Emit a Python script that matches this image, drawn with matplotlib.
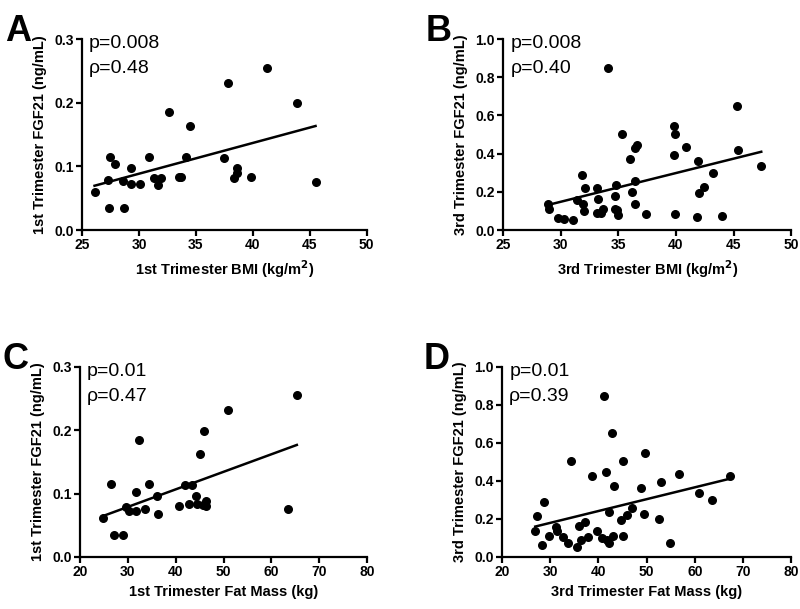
import matplotlib
matplotlib.use("Agg")
import matplotlib.pyplot as plt
import numpy as np

plt.rcParams['font.family'] = ['Liberation Sans', 'DejaVu Sans']

# Panel A: 1st trimester BMI vs FGF21
bmi1 = [26.1, 27.3, 27.5, 27.4, 27.9, 28.6, 28.7, 29.3, 29.3, 30.1, 30.9, 31.3, 31.7, 31.9,
        32.6, 33.5, 33.7, 34.1, 34.5, 37.5, 37.8, 38.3, 38.6, 38.6, 39.8, 41.2, 43.9, 45.5]
fgf1_a = [0.060, 0.079, 0.115, 0.034, 0.103, 0.077, 0.035, 0.097, 0.073, 0.072, 0.115, 0.081, 0.070, 0.081,
          0.185, 0.084, 0.084, 0.114, 0.163, 0.113, 0.231, 0.081, 0.098, 0.090, 0.084, 0.255, 0.199, 0.075]

# Panel B: 3rd trimester BMI vs FGF21
bmi3 = [28.9, 29.0, 29.8, 30.3, 31.1, 31.4, 31.8, 31.9, 32.1, 32.0, 33.1, 33.2, 33.1, 33.5, 33.7,
        34.1, 34.7, 34.8, 34.7, 34.9, 35.0, 35.3, 36.0, 36.2, 36.4, 36.4, 36.4, 36.6, 37.4,
        39.8, 39.9, 39.8, 39.9, 40.9, 41.9, 41.8, 42.0, 42.4, 43.2, 44.0, 45.3, 45.4, 47.4]
fgf3_b = [0.136, 0.108, 0.065, 0.056, 0.051, 0.157, 0.288, 0.136, 0.218, 0.099, 0.218, 0.161, 0.091, 0.087, 0.108,
          0.846, 0.178, 0.236, 0.108, 0.105, 0.079, 0.501, 0.370, 0.197, 0.258, 0.136, 0.428, 0.445, 0.082,
          0.546, 0.501, 0.393, 0.084, 0.436, 0.363, 0.070, 0.192, 0.227, 0.300, 0.073, 0.649, 0.419, 0.337]

# Panel C: 1st trimester fat mass vs FGF21
fat1 = [24.9, 26.5, 27.2, 28.9, 29.6, 30.3, 31.6, 31.6, 32.3, 33.5, 34.5, 36.0, 36.2, 40.7,
        42.0, 42.7, 43.5, 44.3, 44.4, 45.1, 45.7, 46.3, 46.3, 46.0, 50.9, 63.4, 65.3]
fgf1_c = [0.061, 0.115, 0.034, 0.034, 0.079, 0.072, 0.072, 0.103, 0.185, 0.076, 0.115, 0.096, 0.068, 0.081,
          0.113, 0.083, 0.113, 0.097, 0.083, 0.163, 0.082, 0.089, 0.080, 0.199, 0.232, 0.075, 0.255]

# Panel D: 3rd trimester fat mass vs FGF21
fat3 = [26.9, 27.3, 28.2, 28.8, 29.8, 31.3, 31.4, 32.6, 33.6, 34.3, 35.5, 35.9, 36.4, 37.3, 37.8,
        38.7, 39.7, 40.7, 41.2, 41.6, 41.8, 42.3, 42.3, 42.8, 43.0, 43.2, 44.7, 45.2, 45.9, 45.1,
        47.0, 48.8, 49.4, 49.6, 52.5, 53.0, 54.8, 56.8, 60.8, 63.5, 67.3]
fgf3_d = [0.135, 0.217, 0.065, 0.288, 0.112, 0.157, 0.135, 0.105, 0.073, 0.505, 0.052, 0.164, 0.087, 0.182, 0.105,
          0.427, 0.138, 0.100, 0.848, 0.446, 0.087, 0.236, 0.073, 0.650, 0.108, 0.371, 0.196, 0.108, 0.222, 0.505,
          0.260, 0.365, 0.227, 0.549, 0.199, 0.397, 0.073, 0.437, 0.339, 0.301, 0.427]

panels = [
    ("A", bmi1, fgf1_a, "1st Trimester BMI (kg/m$^\\mathbf{2}$)", "1st Trimester FGF21 (ng/mL)",
     (25, 50, 5), (0, 0.3, 0.1), "p=0.008", "ρ=0.48", [0.1025, 0.6223, 0.356, 0.3136]),
    ("B", bmi3, fgf3_b, "3rd Trimester BMI (kg/m$^\\mathbf{2}$)", "3rd Trimester FGF21 (ng/mL)",
     (25, 50, 5), (0, 1.0, 0.2), "p=0.008", "ρ=0.40", [0.629, 0.6223, 0.36, 0.3136]),
    ("C", fat1, fgf1_c, "1st Trimester Fat Mass (kg)", "1st Trimester FGF21 (ng/mL)",
     (20, 80, 10), (0, 0.3, 0.1), "p=0.01", "ρ=0.47", [0.100, 0.0854, 0.359, 0.312]),
    ("D", fat3, fgf3_d, "3rd Trimester Fat Mass (kg)", "3rd Trimester FGF21 (ng/mL)",
     (20, 80, 10), (0, 1.0, 0.2), "p=0.01", "ρ=0.39", [0.6275, 0.0854, 0.3615, 0.312]),
]

fig = plt.figure(figsize=(8, 6.09), dpi=100)

for letter, x, y, xlab, ylab, xr, yr, ptxt, rtxt, pos in panels:
    ax = fig.add_axes(pos)
    x = np.array(x)
    y = np.array(y)
    ax.scatter(x, y, s=30, color='black', zorder=3)
    # least-squares line over the data range
    k, b = np.polyfit(x, y, 1)
    xx = np.array([x.min(), x.max()])
    ax.plot(xx, k * xx + b, color='black', lw=1.8)

    ax.set_xlim(xr[0], xr[1])
    ax.set_ylim(yr[0], yr[1])
    ax.set_xticks(np.arange(xr[0], xr[1] + 0.001, xr[2]))
    ax.set_yticks(np.arange(yr[0], yr[1] + 0.001, yr[2]))
    ax.set_yticklabels([f"{v:.1f}" for v in np.arange(yr[0], yr[1] + 0.001, yr[2])])
    for s in ['top', 'right']:
        ax.spines[s].set_visible(False)
    for s in ['left', 'bottom']:
        ax.spines[s].set_linewidth(1.6)
    ax.tick_params(width=1.6, length=4, labelsize=10, pad=2)
    for t in ax.get_xticklabels() + ax.get_yticklabels():
        t.set_fontweight('bold')
    ax.set_xlabel(xlab, fontsize=10.5, fontweight='bold', labelpad=4)
    ax.set_ylabel(ylab, fontsize=10.5, fontweight='bold', labelpad=5)

    ax.text(0.025, 1.02, ptxt, transform=ax.transAxes, fontsize=14, va='top', ha='left')
    ax.text(0.025, 0.89, rtxt, transform=ax.transAxes, fontsize=14, va='top', ha='left')
    ax.text(-0.27, 1.13, letter, transform=ax.transAxes, fontsize=26, fontweight='bold',
            va='top', ha='left')

fig.savefig("out.png", dpi=100)
